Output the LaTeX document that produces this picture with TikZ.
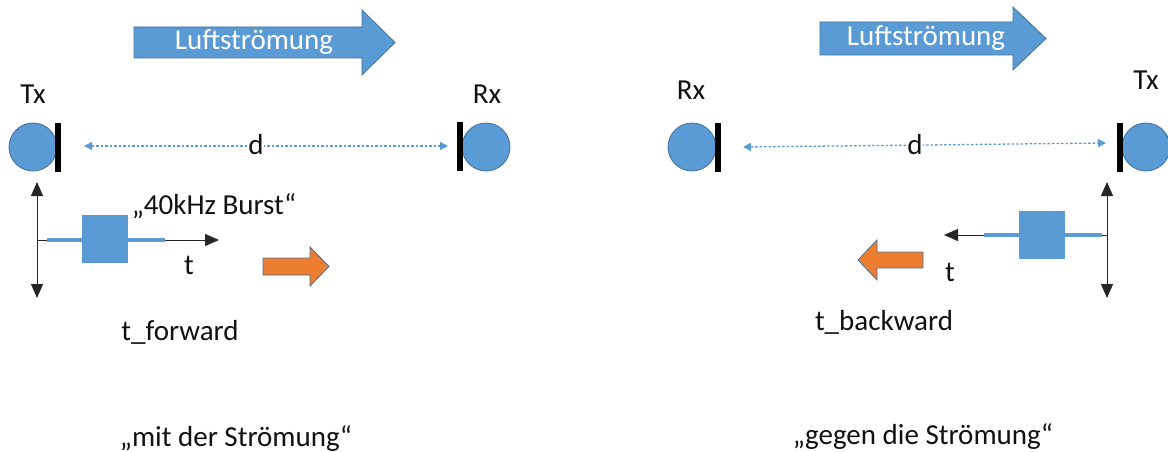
\documentclass[tikz,border=0pt]{standalone}
\usepackage{fontspec}
\setmainfont{Carlito}
\usetikzlibrary{arrows.meta}
\definecolor{ofblue}{HTML}{5B9BD5}
\definecolor{ofedge}{HTML}{41719C}
\definecolor{oforange}{HTML}{ED7D31}
\definecolor{ink}{HTML}{111111}
\tikzset{
  lbl/.style={font=\fontsize{29}{35}\selectfont, inner sep=0pt, text=ink},
  flowtext/.style={font=\fontsize{29}{35}\selectfont, inner sep=0pt, text=white},
  flowarrow/.style={fill=ofblue, draw=ofedge, line width=0.8pt, line join=miter},
  dirarrow/.style={fill=oforange, draw=ofedge, line width=0.8pt, line join=miter},
  transducer/.style={circle, fill=ofblue, draw=ofedge, line width=0.8pt, minimum size=48pt, inner sep=0pt},
  membrane/.style={rectangle, fill=black, inner sep=0pt, minimum width=6pt, minimum height=49pt},
  burst/.style={rectangle, fill=ofblue, inner sep=0pt, minimum width=46pt, minimum height=48pt},
  axline/.style={draw=black!85, line width=1pt},
  axtip/.style={-{Triangle[length=14pt,width=12pt]}},
  axtips/.style={{Triangle[length=14pt,width=12pt]}-{Triangle[length=14pt,width=12pt]}},
  gapline/.style={draw=ofblue, line width=1.3pt, dash pattern=on 2.5pt off 2pt,
    {Triangle[length=8pt,width=8pt]}-{Triangle[length=8pt,width=8pt]}},
  sigline/.style={draw=ofblue, line width=4pt},
}
\begin{document}
\begin{tikzpicture}[x=1pt,y=-1pt]
\useasboundingbox (0,0) rectangle (1168,452);

% ---------- left: propagation with the air flow ----------
\path[flowarrow] (134,27) -- (362,27) -- (362,10) -- (395,42.5) -- (362,75)
  -- (362,58) -- (134,58) -- cycle;
\node[flowtext] (flowL) at (254,42.5) {Luftströmung};

\node[lbl] (txLlbl) at (33,94) {Tx};
\node[lbl] (rxLlbl) at (487,94) {Rx};
\node[transducer] (txL) at (33,147) {};
\node[membrane] (txLbar) at (58,147.5) {};
\node[transducer] (rxL) at (486,147) {};
\node[membrane] (rxLbar) at (460,146.5) {};

\coordinate (dL1) at (84,146);
\coordinate (dL2) at (448,146);
\draw[gapline] (dL1) -- (dL2);
\node[lbl, fill=white, inner xsep=0pt] (dL) at (256,145) {d};

\coordinate (oL) at (37,240);
\coordinate (upL) at (37,182);
\coordinate (dnL) at (37,298);
\coordinate (tL) at (219,240);
\draw[axline, axtips] (upL) -- (dnL);
\draw[axline, axtip] (oL) -- (tL);
\coordinate (sL1) at (47,240);
\coordinate (sL2) at (165,240);
\draw[sigline] (sL1) -- (sL2);
\node[burst] (bL) at (105,239) {};
\node[lbl] (burstlbl) at (214,206) {„40kHz Burst“};
\node[lbl] (tLlbl) at (189,265) {t};

\path[dirarrow] (263,258) -- (310,258) -- (310,247) -- (329,266.5) -- (310,286)
  -- (310,275) -- (263,275) -- cycle;

\node[lbl, anchor=base] (fwd) at (180,340) {t\_forward};
\node[lbl, anchor=base] (mit) at (236,446) {„mit der Strömung“};

% ---------- right: propagation against the air flow ----------
\path[flowarrow] (820,22) -- (1013,22) -- (1013,7) -- (1046,38.5) -- (1013,70)
  -- (1013,55) -- (820,55) -- cycle;
\node[flowtext] (flowR) at (926,38.5) {Luftströmung};

\node[lbl] (rxRlbl) at (691,90) {Rx};
\node[lbl] (txRlbl) at (1146,80) {Tx};
\node[transducer] (rxR) at (692,147) {};
\node[membrane] (rxRbar) at (718,147) {};
\node[transducer] (txR) at (1146,147) {};
\node[membrane] (txRbar) at (1120,147) {};

\coordinate (dR1) at (743,147);
\coordinate (dR2) at (1106,143);
\draw[gapline] (dR1) -- (dR2);
\node[lbl, fill=white, inner xsep=0pt] (dR) at (915,145) {d};

\coordinate (oR) at (1107,235);
\coordinate (upR) at (1107,182);
\coordinate (dnR) at (1107,298);
\coordinate (tR) at (944,235);
\draw[axline, axtips] (upR) -- (dnR);
\draw[axline, axtip] (oR) -- (tR);
\coordinate (sR1) at (984,235);
\coordinate (sR2) at (1102,235);
\draw[sigline] (sR1) -- (sR2);
\node[burst] (bR) at (1041.5,234.5) {};
\node[lbl] (tRlbl) at (950,272) {t};

\path[dirarrow] (923,252) -- (877,252) -- (877,240) -- (858,260) -- (877,280)
  -- (877,268) -- (923,268) -- cycle;

\node[lbl, anchor=base] (bwd) at (884,330) {t\_backward};
\node[lbl, anchor=base] (gegen) at (923,444) {„gegen die Strömung“};
\end{tikzpicture}
\end{document}
